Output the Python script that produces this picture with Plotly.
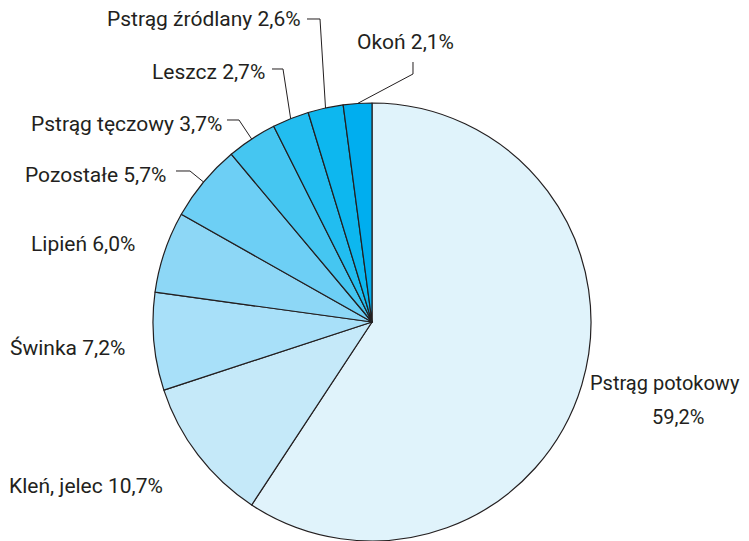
import math
import plotly.graph_objects as go

categories = ["Pstrąg potokowy", "Kleń, jelec", "Świnka", "Lipień", "Pozostałe",
              "Pstrąg tęczowy", "Leszcz", "Pstrąg źródlany", "Okoń"]
values = [59.2, 10.7, 7.2, 6.0, 5.7, 3.7, 2.7, 2.6, 2.1]
value_labels = ["59,2%", "10,7%", "7,2%", "6,0%", "5,7%", "3,7%", "2,7%", "2,6%", "2,1%"]
colors = ["#e0f3fb", "#c5e9f9", "#a8e0f9", "#8dd7f6", "#6dcff5",
          "#45c6f1", "#22bdf0", "#0db7ef", "#00aeef"]

W, H = 749, 541
OX, OY = 8, 9               # page offset of the plot div (body margin)
CX, CY, R = 372, 323, 219   # desired on-screen pie centre / radius
FONT = "Roboto, Liberation Sans, Arial, sans-serif"
FS = 21


def px(x):
    return (x - OX) / W


def py(y):
    return 1 - (y - OY) / H


fig = go.Figure(go.Pie(
    labels=categories, values=values, sort=False, direction="clockwise", rotation=0,
    marker=dict(colors=colors, line=dict(color="#231f20", width=1.2)),
    textinfo="none", hoverinfo="label+percent", showlegend=False,
    domain=dict(x=[px(CX - R - 3), px(CX + R + 3)],
                y=[max(0, py(CY + R)), py(CY - R)]),
))

# label anchor positions (screen pixels) and leader elbow points
label_layout = {
    "Pstrąg potokowy": dict(x=665, y=384, anchor="center", x2=678, y2=418, fs=20),
    "Kleń, jelec": dict(x=165, y=487, anchor="right"),
    "Świnka": dict(x=127, y=349, anchor="right"),
    "Lipień": dict(x=137, y=245, anchor="right"),
    "Pozostałe": dict(x=168, y=176, anchor="right", elbow=[(176, 172), (190, 172)]),
    "Pstrąg tęczowy": dict(x=224, y=125, anchor="right", elbow=[(227, 121), (239, 121)]),
    "Leszcz": dict(x=267, y=73, anchor="right", elbow=[(272, 70), (283, 70)]),
    "Pstrąg źródlany": dict(x=303, y=20, anchor="right", elbow=[(307, 20), (320, 20)]),
    "Okoń": dict(x=405, y=43, anchor="center", elbow=[(413, 63), (413, 75)]),
}

total = sum(values)
cum = 0.0
for cat, val, vl in zip(categories, values, value_labels):
    mid = (cum + val / 2) / total * 2 * math.pi
    cum += val
    lay = label_layout[cat]
    fs = lay.get("fs", FS)
    if "y2" in lay:
        lines = [(cat, lay["x"], lay["y"]), (vl, lay["x2"], lay["y2"])]
    else:
        lines = [(f"{cat} {vl}", lay["x"], lay["y"])]
    for text, xx, yy in lines:
        fig.add_annotation(
            x=px(xx), y=py(yy), xref="paper", yref="paper",
            text=text, showarrow=False, xanchor=lay["anchor"], yanchor="middle",
            font=dict(family=FONT, size=fs, color="#231f20"),
        )
    if "elbow" in lay:
        ex = CX + R * math.sin(mid)
        ey = CY - R * math.cos(mid)
        pts = lay["elbow"] + [(ex, ey)]
        path = "M " + " L ".join(f"{px(a):.5f},{py(b):.5f}" for a, b in pts)
        fig.add_shape(type="path", path=path, xref="paper", yref="paper",
                      line=dict(color="#231f20", width=1))

fig.update_layout(
    width=W, height=H, margin=dict(l=0, r=0, t=0, b=0),
    paper_bgcolor="white", plot_bgcolor="white",
)

fig.write_html("out.html")
